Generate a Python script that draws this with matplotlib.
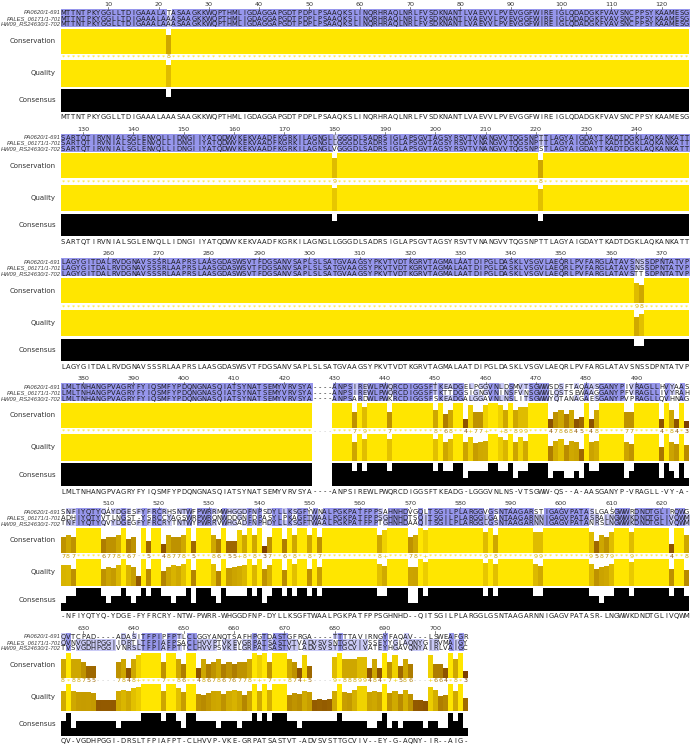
import numpy as np
import matplotlib
matplotlib.use("Agg")
import matplotlib.pyplot as plt

# ---------------- data ----------------
names = ["PA0620/1-691", "PALES_06171/1-701", "HW09_RS24630/1-702"]

seq1_rows = [
    "MTTNTPKYGGLLTDIGAAALATASAAGKKWQPTHMLIGDAGGAPGDTPDPLPSAAQKSLINQRHRAQLNRLFVSDKNANTLVAEVVLPVEVGGFWIREIGLQDADGKFVAVSNCPPSYKAAMESG",
    "SARTQTIRVNIALSGLENVQLLIDNGIIYATQDWVKEKVAADFKGRKILAGNGLLGGGDLSADRSIGLAPSGVTAGSYRSVTVNANGVVTQGSNPTTLAGYAIGDAYTKADTDGKLAQKANKATT",
    "LAGYGITDALRVDGNAVSSSRLAAPRSLAASGDASWSVTFDGSANVSAPLSLSATGVAAGSYPKVTVDTKGRVTAGMALAATDIPGLDASKLVSGVLAEQRLPVFARGLATAVSNSSDPNTATVP",
    "LMLTNHANGPVAGRYFYIQSMFYPDQNGNASQIATSYNATSEMYVRVSYA----ANPSIREWLPWQRCDIGGSFTKEADGELPGGVNLDSMVTSGWWSDSFTAQAASGANYPIVRAGLLHVYAAS",
    "SNFIYQTYQAYDGESFYFRCRHSNTWFPWRRMWHGGDFNPSDYLLKSGFYWNALPGKPATFPPSAHNHDVGQLTSGILPLARGGVGSNTAAGARSTIGAGVPATASLGASGWWRDNDTGLIRQWG",
    "QVTCPAD----ADASITFPIPFPTLCLGGYANQTSAFHPGTDASTGFRGA----TTTTAVIRNGYFAQAV---LSWEAFGR",
]
seq2_rows = [
    "MTTNTPKYGGLLTDIGAAALAAASAAGKKWQPTHMLIGDAGGAPGDTPDPLPSAAQKSLINQRHRAQLNRLFVSDKNANTLVAEVVLPVEVGGFWIREIGLQDADGKFVAVSNCPPSYKAAMESG",
    "SARTQTIRVNIALSGLENVQLLIDNGIIYATQDWVKEKVAADFKGRKILAGNGLLGGGDLSADRSIGLAPSGVTAGSYRSVTVNANGVVTQGSNPTTLAGYAIGDAYTKADTDGKLAQKANKATT",
    "LAGYGITDALRVDGNAVSSSRLAAPRSLAASGDASWSVTFDGSANVSAPLSLSATGVAAGSYPKVTVDTKGRVTAGMALAATDIPGLDASKLVSGVLAEQRLPVFARGLATAVSNSSDPNTATVP",
    "LMLTNHANGPVAGRYFYIQSMFYPDQNGNASQIATSYNATSEMYVRVSYA----ANPSIREWLPWQRCDIGGSFTKTTDGSIGNGVNINSFVNSGWWLQSTSEWAAGGANYPFVRAGLLIVYRAH",
    "ADHIYQTYVTLNGST-YSRCCYAGSWRPWRQNWDDGNFDPASYLPKAGFTWAALPGKPATFPPSGHNHDTSQITSGILPLARGGLGANTAAGARNNIGAGVPATASRALNGWWKDNDTGLIVQWM",
    "QVNVGDHPGGIIDRTLTFPIAFPSACLHVVPTVKEVGRPATSASTVTVADVSVSNTGCVIVSSEYYGLAQNYGIRVMAIGY",
]
seq3_rows = [
    "MTTNTPKYGGLLTDIGAAALAAASAAGKKWQPTHMLIGDAGGAPGDTPDPLPSAAQKSLINQRHRAQLNRLFVSDKNANTLVAEVVLPVEVGGFWIREIGLQDADGKFVAVSNCPPSYKAAMESG",
    "SARTQTIRVNIALSGLENVQLLIDNGIIYATQDWVKEKVAADFKGRKILAGNGLVGGGDLSADRSIGLAPSGVTAGSYRSVTVNANGVVTQGSNPSTLAGYAIGDAYTKADTDGKLAQKANKATT",
    "LAGYGITDALRVDGNAVSSSRLAAPRSLAASGDASWSVTFDGSANVSAPLSLSATGVAAGSYPKVTVDTKGRVTAGMALAATDIPGLDASKLVSGVLAEQRLPVFARGLATAVSTTSDPNTATVP",
    "LMLTNHANGPVAGRYFYIQSMFYPDQNGNASQIATSYNATSEMYVRVSYA----ANPSARDWLPWKRCDIGGSFSKEADGALGGAVNLNSLITSGWWYQTANAGAESGANYPVPRAGLLQVHNAG",
    "TNFIYQTYQVYDGEGFYFRCRYTNTWYPWRRVWHGADFNPHDYLLKSGFTWAALPGKPATFPPTGHNHDAAQITSGILPLARGGLGSNTAAGARNNIGAGVPATANRSLNGWWKDNDTGLIVQWM",
    "TVSVGDHPGGIVNRSLTFPIAFPTTCLHVVPSVKELGRPATSASTVTLADVSVSTTGCVIVATEYHGAVQNYAIRLVAIGC",
]
block_starts = [1, 126, 251, 376, 501, 626]
annotation_labels = ["Conservation", "Quality", "Consensus"]

seqs = ["".join(r) for r in (seq1_rows, seq2_rows, seq3_rows)]
ncol = len(seqs[0])
NSEQ = len(seqs)

# ---------------- derived annotation rows (as Jalview computes them) ----------------
PROPS = ["ILVCAGMFYWHKT", "YWHKREQDNST", "VCAGDNSTP", "HKR", "ED",
         "HKRED", "FYWH", "ILV", "AGCS", "P"]
AA = "ARNDCQEGHILKMFPSTWYV"
B62 = np.array([
 [ 4,-1,-2,-2, 0,-1,-1, 0,-2,-1,-1,-1,-1,-2,-1, 1, 0,-3,-2, 0],
 [-1, 5, 0,-2,-3, 1, 0,-2, 0,-3,-2, 2,-1,-3,-2,-1,-1,-3,-2,-3],
 [-2, 0, 6, 1,-3, 0, 0, 0, 1,-3,-3, 0,-2,-3,-2, 1, 0,-4,-2,-3],
 [-2,-2, 1, 6,-3, 0, 2,-1,-1,-3,-4,-1,-3,-3,-1, 0,-1,-4,-3,-3],
 [ 0,-3,-3,-3, 9,-3,-4,-3,-3,-1,-1,-3,-1,-2,-3,-1,-1,-2,-2,-1],
 [-1, 1, 0, 0,-3, 5, 2,-2, 0,-3,-2, 1, 0,-3,-1, 0,-1,-2,-1,-2],
 [-1, 0, 0, 2,-4, 2, 5,-2, 0,-3,-3, 1,-2,-3,-1, 0,-1,-3,-2,-2],
 [ 0,-2, 0,-1,-3,-2,-2, 6,-2,-4,-4,-2,-3,-3,-2, 0,-2,-2,-3,-3],
 [-2, 0, 1,-1,-3, 0, 0,-2, 8,-3,-3,-1,-2,-1,-2,-1,-2,-2, 2,-3],
 [-1,-3,-3,-3,-1,-3,-3,-4,-3, 4, 2,-3, 1, 0,-3,-2,-1,-3,-1, 3],
 [-1,-2,-3,-4,-1,-2,-3,-4,-3, 2, 4,-2, 2, 0,-3,-2,-1,-2,-1, 1],
 [-1, 2, 0,-1,-3, 1, 1,-2,-1,-3,-2, 5,-1,-3,-1, 0,-1,-3,-2,-2],
 [-1,-1,-2,-3,-1, 0,-2,-3,-2, 1, 2,-1, 5, 0,-2,-1,-1,-1,-1, 1],
 [-2,-3,-3,-3,-2,-3,-3,-3,-1, 0, 0,-3, 0, 6,-4,-2,-2, 1, 3,-1],
 [-1,-2,-2,-1,-3,-1,-1,-2,-2,-3,-3,-1,-2,-4, 7,-1,-1,-4,-3,-2],
 [ 1,-1, 1, 0,-1, 0, 0, 0,-1,-2,-2, 0,-1,-2,-1, 4, 1,-3,-2,-2],
 [ 0,-1, 0,-1,-1,-1,-1,-2,-2,-1,-1,-1,-1,-2,-1, 1, 5,-2,-2, 0],
 [-3,-3,-4,-4,-2,-2,-3,-2,-2,-3,-2,-3,-1, 1,-4,-3,-2,11, 2,-3],
 [-2,-2,-2,-3,-2,-1,-2,-3, 2,-1,-1,-2,-1, 3,-3,-2,-2, 2, 7,-1],
 [ 0,-3,-3,-3,-1,-2,-2,-3,-3, 3, 1,-2, 1,-1,-2,-2, 0,-3,-1, 4]], float)

columns = [tuple(s[j] for s in seqs) for j in range(ncol)]

cons_val, cons_chr = [], []
for col in columns:
    if "-" in col:
        cons_val.append(0); cons_chr.append("-")
    elif len(set(col)) == 1:
        cons_val.append(11); cons_chr.append("*")
    else:
        v = sum(len({c in p for c in col}) == 1 for p in PROPS)
        cons_val.append(v); cons_chr.append("+" if v == 10 else str(v))
cons_val = np.array(cons_val, float)

raw = []
for col in columns:
    idx = [AA.find(c) for c in col]
    x = np.zeros(20)
    for k in idx:
        if k >= 0:
            x += B62[:, k] + 4
    x /= NSEQ
    tot = 0.0
    for k in idx:
        sr = B62[:, k] + 4 if k >= 0 else np.full(20, 4.0)
        tot += np.sqrt(((x - sr) ** 2).sum())
    raw.append(tot)
raw = np.array(raw)
gaps = np.array([col.count("-") for col in columns])
qual = (raw.max() - raw) * (NSEQ - gaps) / NSEQ
qual = qual / qual.max()

pct, consensus = [], []
for col in columns:
    res = [c for c in col if c != "-"]
    if not res:
        pct.append(0); consensus.append("-"); continue
    counts = {c: res.count(c) for c in res}
    m = max(counts.values())
    top = [c for c in counts if counts[c] == m]
    pct.append(100.0 * m / NSEQ)
    consensus.append(top[0] if (len(top) == 1) else "-")
pct = np.array(pct)

def grad(v):
    v = float(np.clip(v, 0, 1))
    return (0.3 + 0.7 * v, 0.9 * v, 0.0)

# ---------------- layout (pixels) ----------------
W, H, DPI = 693, 747, 100
X0, CW, NPB = 60.5, 5.03, 125
BH = 124.8
SEQ_TOP, ROW_H = 9.8, 5.7
C_TOP, C_BOT = 28.5, 53.5
Q_TOP, Q_BOT = 60.0, 86.5
K_TOP, K_BOT = 89.0, 111.5

fig = plt.figure(figsize=(W / DPI, H / DPI), dpi=DPI)
fig.patch.set_facecolor("white")

def px_axes(x0, y0, x1, y1):
    ax = fig.add_axes([x0 / W, 1 - y1 / H, (x1 - x0) / W, (y1 - y0) / H])
    ax.set_axis_off()
    return ax

DARK = np.array([150, 150, 236]) / 255
LIGHT = np.array([202, 202, 246]) / 255
FS = 4.9
TXT = "#1c1c1c"

for b, start in enumerate(block_starts):
    off = b * BH
    c0 = start - 1
    c1 = min(c0 + NPB, ncol)
    n = c1 - c0
    xr = X0 + NPB * CW

    ax = px_axes(X0, off, xr, off + BH)
    ax.set_xlim(0, NPB)
    ax.set_ylim(BH, 0)

    # scale ticks (the label of a block's final column does not fit)
    for j in range(n):
        pos = c0 + j + 1
        if pos % 10 == 0 and j < NPB - 1:
            ax.text(j + 0.5, 4.3, str(pos), ha="center", va="center", fontsize=4.6, color="#333333")
            ax.plot([j + 0.5, j + 0.5], [7.4, 9.2], color="#555555", lw=0.5)

    # sequence shading
    img = np.ones((NSEQ, n, 3))
    for i in range(NSEQ):
        for j in range(n):
            c = seqs[i][c0 + j]
            if c != "-" and c == consensus[c0 + j]:
                p = pct[c0 + j]
                if p > 80:
                    img[i, j] = DARK
                elif p > 60:
                    img[i, j] = LIGHT
    ax.imshow(img, extent=(0, n, SEQ_TOP + NSEQ * ROW_H, SEQ_TOP), aspect="auto",
              interpolation="nearest", zorder=1)
    for i in range(NSEQ):
        yc = SEQ_TOP + (i + 0.5) * ROW_H
        for j in range(n):
            ax.text(j + 0.5, yc + 0.2, seqs[i][c0 + j], ha="center", va="center",
                    fontsize=FS, color=TXT, zorder=3)
        ax.text(0.05, yc + 0.2, names[i], ha="right", va="center", fontsize=4.15,
                family="Liberation Sans", style="italic", color="#3a3a3a", clip_on=False)

    # conservation characters and consensus letters
    for j in range(n):
        k = c0 + j
        col = grad(cons_val[k] / 11) if cons_chr[k] != "-" else (0.75, 0.75, 0.75)
        ax.text(j + 0.5, 57.0, cons_chr[k], ha="center", va="center", fontsize=4.6,
                color=col)
        ax.text(j + 0.5, 117.2, consensus[k], ha="center", va="center", fontsize=FS,
                color=TXT)

    # labels
    for lab, yy in zip(annotation_labels, (41.0, 73.0, 100.5)):
        ax.text(-0.9, yy, lab, ha="right", va="center", fontsize=5.0, color="#333333",
                clip_on=False)

    xs = np.arange(n) + 0.5
    # conservation histogram
    axc = px_axes(X0, off + C_TOP, xr, off + C_BOT)
    axc.set_xlim(0, NPB); axc.set_ylim(0, 11)
    axc.bar(xs, cons_val[c0:c1], width=1.0,
            color=[grad(v / 11) for v in cons_val[c0:c1]], linewidth=0)
    # quality histogram
    axq = px_axes(X0, off + Q_TOP, xr, off + Q_BOT)
    axq.set_xlim(0, NPB); axq.set_ylim(0, 1)
    axq.bar(xs, qual[c0:c1], width=1.0, color=[grad(v) for v in qual[c0:c1]], linewidth=0)
    # consensus histogram
    axk = px_axes(X0, off + K_TOP, xr, off + K_BOT)
    axk.set_xlim(0, NPB); axk.set_ylim(0, 100)
    axk.bar(xs, pct[c0:c1], width=1.0, color="black", linewidth=0)

fig.savefig("out.png", dpi=DPI, facecolor="white")
